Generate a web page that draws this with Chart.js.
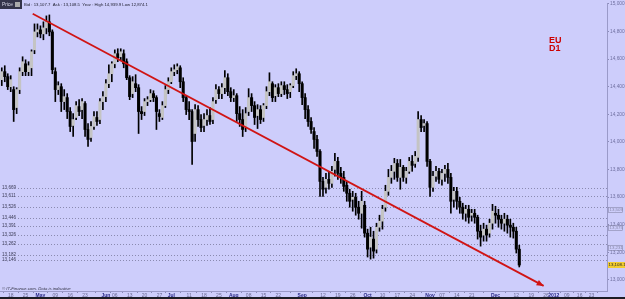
<!DOCTYPE html>
<html>
<head>
<meta charset="utf-8">
<script src="https://cdn.jsdelivr.net/npm/chart.js@4.4.1/dist/chart.umd.min.js"></script>
<style>
  html, body { margin: 0; padding: 0; background: #cdcdfb; }
  #wrap { width: 625px; height: 299px; }
</style>
</head>
<body>
<div id="wrap"><canvas id="priceChart" width="625" height="299"></canvas></div>
<script>
// daily candles, 13 Apr 2011 .. 13 Dec 2011 (one entry per weekday)
const opens = [14451,14509,14473,14400,14379,14249,14379,14509,14566,14509,14537,14667,14797,14812,14783,14826,14870,14797,14509,14379,
  14400,14292,14321,14220,14119,14177,14256,14234,14278,14090,14032,14112,14177,14162,14292,14328,14422,14494,14566,14639,
  14617,14639,14581,14465,14350,14422,14393,14220,14220,14292,14306,14350,14321,14205,14177,14263,14379,14436,14509,14523,
  14537,14436,14321,14234,14220,14061,14234,14162,14119,14162,14191,14162,14306,14379,14350,14393,14465,14364,14321,14335,
  14205,14162,14104,14220,14321,14263,14191,14234,14177,14263,14364,14422,14335,14393,14350,14408,14379,14364,14408,14480,
  14494,14422,14321,14234,14148,14075,14018,13931,13714,13671,13729,13700,13801,13859,13772,13743,13686,13628,13584,13599,
  13527,13483,13541,13339,13238,13296,13223,13382,13426,13527,13642,13743,13787,13844,13743,13816,13743,13787,13859,13844,
  13888,14162,14119,14133,13859,13671,13751,13787,13729,13772,13801,13743,13584,13642,13570,13527,13483,13512,13469,13483,
  13454,13353,13325,13368,13339,13411,13483,13469,13440,13411,13440,13397,13382,13353,13223];
const highs = [14537,14552,14494,14480,14400,14393,14537,14617,14595,14581,14667,14855,14855,14841,14870,14913,14920,14812,14537,14436,
  14422,14379,14350,14249,14205,14292,14306,14314,14292,14133,14148,14220,14220,14314,14364,14451,14559,14581,14667,14675,
  14675,14667,14602,14480,14473,14487,14415,14256,14314,14328,14379,14371,14335,14234,14292,14408,14465,14537,14559,14566,
  14552,14465,14335,14292,14234,14270,14263,14198,14205,14234,14249,14321,14415,14400,14422,14516,14494,14393,14379,14350,
  14256,14234,14249,14386,14350,14292,14270,14263,14278,14400,14501,14436,14415,14422,14436,14436,14415,14422,14509,14530,
  14509,14436,14350,14263,14177,14104,14047,13945,13743,13772,13787,13823,13917,13888,13816,13787,13714,13657,13642,13628,
  13570,13642,13570,13368,13382,13353,13411,13469,13541,13686,13801,13830,13881,13873,13873,13830,13816,13888,13902,13931,
  14220,14191,14162,14148,13873,13787,13823,13808,13801,13830,13844,13772,13671,13671,13599,13556,13541,13541,13512,13512,
  13469,13397,13411,13397,13440,13548,13534,13512,13469,13483,13469,13440,13411,13382,13252];
const lows = [14408,14436,14379,14364,14148,14205,14350,14480,14480,14480,14480,14639,14761,14754,14740,14783,14769,14494,14292,14343,
  14220,14234,14169,14075,14039,14162,14191,14169,14039,13967,14003,14090,14119,14133,14234,14292,14393,14436,14537,14581,
  14595,14537,14451,14306,14321,14364,14061,14162,14191,14263,14292,14292,14090,14148,14162,14249,14350,14422,14480,14494,
  14393,14292,14198,14162,13837,14003,14112,14075,14075,14119,14126,14133,14278,14314,14314,14350,14335,14292,14292,14148,
  14112,14039,14075,14191,14220,14126,14097,14133,14148,14241,14335,14292,14292,14328,14328,14343,14314,14321,14393,14451,
  14364,14270,14169,14112,14061,13953,13895,13606,13606,13628,13657,13671,13751,13729,13700,13642,13570,13527,13498,13469,
  13440,13375,13310,13166,13151,13158,13195,13353,13368,13498,13613,13700,13729,13714,13657,13714,13700,13772,13787,13816,
  13859,14075,14075,13823,13606,13642,13714,13700,13686,13714,13700,13483,13527,13512,13483,13440,13426,13411,13426,13411,
  13296,13245,13281,13281,13310,13368,13411,13382,13368,13353,13339,13310,13303,13195,13094];
const closes = [14509,14473,14400,14451,14234,14379,14509,14581,14509,14552,14653,14797,14812,14783,14826,14870,14797,14523,14379,14408,
  14292,14328,14220,14112,14162,14263,14220,14292,14090,14018,14112,14184,14148,14292,14328,14422,14494,14566,14639,14610,
  14653,14566,14465,14328,14436,14393,14220,14205,14292,14306,14350,14321,14220,14184,14263,14379,14436,14509,14523,14545,
  14436,14321,14234,14220,14003,14234,14162,14104,14162,14191,14148,14292,14379,14350,14393,14465,14364,14321,14335,14205,
  14162,14090,14205,14321,14263,14177,14234,14162,14263,14364,14436,14321,14393,14350,14408,14379,14350,14408,14480,14494,
  14422,14321,14234,14148,14090,14018,13931,13714,13657,13729,13700,13787,13859,13772,13743,13678,13628,13570,13599,13527,
  13483,13570,13339,13223,13310,13209,13382,13426,13512,13642,13743,13787,13844,13743,13816,13743,13787,13859,13830,13895,
  14162,14104,14133,13859,13671,13751,13787,13729,13772,13801,13743,13570,13642,13570,13527,13483,13512,13454,13483,13454,
  13353,13310,13368,13325,13411,13498,13469,13440,13411,13440,13397,13382,13353,13223,13108];

// x axis: weekday index of each date label (0 = 13 Apr 2011)
const tickDays = [3, 8, 13, 18, 23, 28, 35, 38, 43, 48, 53, 57, 63, 68, 73, 78, 83, 88, 93, 101,
  108, 113, 118, 123, 128, 133, 138, 144, 148, 153, 158, 166, 173, 178, 183, 185.6, 190, 194.3, 198.3];
const tickLabels = ['18', '25', 'May', '09', '16', '23', 'Jun', '06', '13', '20', '27', 'Jul', '11', '18', '25', 'Aug', '08', '15', '22', 'Sep',
  '12', '19', '26', 'Oct', '10', '17', '24', 'Nov', '07', '14', '21', 'Dec', '12', '19', '26', '2012', '09', '16', '23'];
const priceTicks = [13000, 13200, 13400, 13600, 13800, 14000, 14200, 14400, 14600, 14800, 15000];

// trend line (start, end) and horizontal levels
const trendDays = [10.4, 182.2];
const trendPrices = [14928, 12957];
const levelPrices = [13669, 13611, 13526, 13446, 13391, 13326, 13262, 13182, 13146];
const markerPrices = [13509, 13375, 13231];
const lastPrice = 13108.1;

const upColor = '#c4c4c4';
const downColor = '#000000';
const fmt = v => v.toLocaleString('en-US');

const bodies = opens.map((o, i) => ({ x: i, y: [o, closes[i]] }));
const wicks = highs.map((h, i) => ({ x: i, y: [lows[i], h] }));
const bodyColors = opens.map((o, i) => closes[i] >= o ? upColor : downColor);

const overlay = {
  id: 'overlay',
  beforeDraw(chart) {
    const ctx = chart.ctx;
    ctx.save();
    ctx.fillStyle = '#cdcdfb';
    ctx.fillRect(0, 0, chart.width, chart.height);
    ctx.restore();
  },
  beforeDatasetsDraw(chart) {
    const { ctx, chartArea, scales: { y } } = chart;
    ctx.save();
    ctx.font = '4.6px "Liberation Sans"';
    ctx.fillStyle = '#3a3a55';
    levelPrices.forEach(v => {
      const py = Math.round(y.getPixelForValue(v)) + 0.5;
      ctx.strokeStyle = '#8a8ab0';
      ctx.lineWidth = 1;
      ctx.setLineDash([1, 2]);
      ctx.beginPath();
      ctx.moveTo(18, py);
      ctx.lineTo(chartArea.right, py);
      ctx.stroke();
      ctx.fillText(fmt(v), 2, py + 0.5);
    });
    ctx.restore();
  },
  afterDraw(chart) {
    const { ctx, chartArea, scales: { y } } = chart;
    ctx.save();

    // arrow head on the trend line
    const meta = chart.getDatasetMeta(2);
    const p0 = meta.data[0], p1 = meta.data[1];
    const ang = Math.atan2(p1.y - p0.y, p1.x - p0.x);
    ctx.fillStyle = '#d01414';
    ctx.beginPath();
    ctx.moveTo(p1.x, p1.y);
    ctx.lineTo(p1.x - 7 * Math.cos(ang) + 3 * Math.sin(ang), p1.y - 7 * Math.sin(ang) - 3 * Math.cos(ang));
    ctx.lineTo(p1.x - 7 * Math.cos(ang) - 3 * Math.sin(ang), p1.y - 7 * Math.sin(ang) + 3 * Math.cos(ang));
    ctx.closePath();
    ctx.fill();

    // header strip
    ctx.fillStyle = '#34344a';
    ctx.fillRect(0, 0, 22, 9);
    ctx.fillStyle = '#d8d8e8';
    ctx.font = '4.8px "Liberation Sans"';
    ctx.textBaseline = 'middle';
    ctx.fillText('Price', 2, 4.5);
    ctx.fillStyle = '#aaaaaa';
    ctx.fillRect(15, 2, 5, 5);
    ctx.fillStyle = '#222233';
    const head = 'Bid : 13,107.7  Ask : 13,108.5  Year : High 14,939.9 Low 12,874.1';
    ctx.font = '10px "Liberation Sans"';
    const hs = 124 / ctx.measureText(head).width * 10;
    ctx.font = hs.toFixed(2) + 'px "Liberation Sans"';
    ctx.fillText(head, 24, 4.5);

    // EU / D1 label
    ctx.fillStyle = '#cc0000';
    ctx.font = 'bold 9px "Liberation Sans"';
    ctx.textBaseline = 'alphabetic';
    ctx.fillText('EU', 549, 43);
    ctx.fillText('D1', 549, 50.5);

    // copyright
    ctx.fillStyle = '#333344';
    ctx.font = 'italic 4.3px "Liberation Sans"';
    ctx.fillText('\u00a9 IT-Finance.com. Data is indicative', 2, 290);

    // boxed price markers on the right axis
    ctx.font = '4.4px "Liberation Sans"';
    ctx.textBaseline = 'middle';
    markerPrices.forEach(v => {
      const py = Math.round(y.getPixelForValue(v));
      ctx.strokeStyle = '#8888aa';
      ctx.lineWidth = 0.6;
      ctx.strokeRect(chartArea.right + 1.5, py - 2.5, 14, 5);
      ctx.fillStyle = '#8888aa';
      ctx.fillText(fmt(v), chartArea.right + 2.5, py);
    });
    const lp = Math.round(y.getPixelForValue(lastPrice));
    ctx.fillStyle = '#f2cc30';
    ctx.fillRect(chartArea.right + 1, lp - 3, 18, 6);
    ctx.fillStyle = '#222';
    ctx.fillText(lastPrice.toLocaleString('en-US', { minimumFractionDigits: 1 }), chartArea.right + 1.5, lp);

    // dark strip along the bottom
    ctx.fillStyle = '#1c1c24';
    ctx.fillRect(0, 297, chart.width, 2);
    ctx.restore();
  }
};

new Chart(document.getElementById('priceChart').getContext('2d'), {
  type: 'bar',
  data: {
    datasets: [
      {
        label: 'Body',
        data: bodies,
        backgroundColor: bodyColors,
        barThickness: 2.4,
        grouped: false,
        order: 1
      },
      {
        label: 'Wick',
        data: wicks,
        backgroundColor: '#000000',
        barThickness: 1,
        grouped: false,
        order: 2
      },
      {
        type: 'line',
        label: 'Trend',
        data: trendDays.map((d, i) => ({ x: d, y: trendPrices[i] })),
        borderColor: '#d01414',
        borderWidth: 1.8,
        pointRadius: 0,
        order: 0
      }
    ]
  },
  options: {
    responsive: false,
    animation: false,
    layout: { padding: 0 },
    plugins: {
      legend: { display: false },
      tooltip: { enabled: false }
    },
    scales: {
      x: {
        type: 'linear',
        position: 'bottom',
        min: -0.6,
        max: 203.5,
        offset: false,
        grid: { drawOnChartArea: false, drawTicks: true, tickLength: 2, color: '#8a8ab8' },
        border: { display: true, color: '#9a9ac8' },
        afterBuildTicks(scale) {
          scale.ticks = tickDays.map(v => ({ value: v }));
        },
        afterFit(scale) { scale.height = 8; },
        ticks: {
          autoSkip: false,
          maxRotation: 0,
          padding: 0,
          callback(value, index) { return tickLabels[index]; },
          color(c) { return /^[0-9]+$/.test(tickLabels[c.index]) && tickLabels[c.index] !== '2012' ? '#6a6a92' : '#2a2a88'; },
          font(c) {
            const lab = tickLabels[c.index];
            return { family: 'Liberation Sans', size: 5, weight: /^[0-9]+$/.test(lab) && lab !== '2012' ? 'normal' : 'bold' };
          }
        }
      },
      y: {
        type: 'linear',
        position: 'right',
        min: 12920,
        max: 15000,
        grid: { drawOnChartArea: false, drawTicks: true, tickLength: 2, color: '#8a8ab8' },
        border: { display: true, color: '#9a9ac8' },
        afterBuildTicks(scale) {
          scale.ticks = priceTicks.map(v => ({ value: v }));
        },
        afterFit(scale) { scale.width = 18; },
        ticks: {
          padding: 1,
          color: '#7070a0',
          font: { family: 'Liberation Sans', size: 4.8 }
        }
      }
    }
  },
  plugins: [overlay]
});
</script>
</body>
</html>
